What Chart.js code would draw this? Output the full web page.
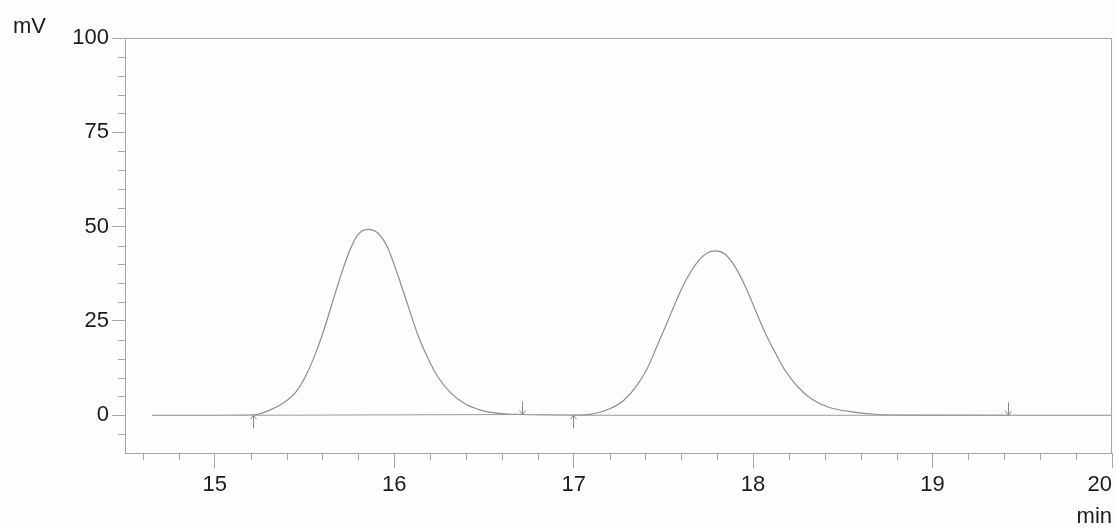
<!DOCTYPE html>
<html>
<head>
<meta charset="utf-8">
<script src="https://cdn.jsdelivr.net/npm/chart.js@4/dist/chart.umd.min.js"></script>
<style>
  html, body { margin: 0; padding: 0; background: #fdfdfd; }
  #wrap { width: 1116px; height: 528px; position: relative; }
</style>
</head>
<body>
<div id="wrap"><canvas id="chrom"></canvas></div>
<script>
// ── Data ─────────────────────────────────────────────────────────────────────
const times = [
  14.65, 15.0, 15.22, 15.304, 15.378, 15.453, 15.509, 15.565, 15.611, 15.657,
  15.704, 15.75, 15.797, 15.855, 15.909, 15.965, 16.02, 16.076, 16.132, 16.188,
  16.243, 16.318, 16.392, 16.486, 16.597, 16.71, 16.85, 17.0, 17.112, 17.205,
  17.28, 17.354, 17.41, 17.467, 17.523, 17.578, 17.634, 17.69, 17.746, 17.79,
  17.841, 17.897, 17.953, 18.009, 18.065, 18.121, 18.177, 18.25, 18.324, 18.418,
  18.548, 18.697, 18.9, 19.418, 20.0,
];
const signal = [
  0, 0, 0.1, 1.3, 3.1, 6.2, 10.6, 16.8, 23.0, 30.1,
  37.2, 43.4, 47.8, 49.3, 48.3, 44.3, 37.2, 29.2, 21.3, 15.1,
  10.2, 5.8, 3.1, 1.3, 0.44, 0.2, 0.08, 0.02, 0.4, 1.8,
  4.0, 8.0, 12.4, 18.6, 24.8, 31.0, 36.5, 40.6, 43.1, 43.6,
  42.8, 39.6, 34.5, 28.3, 22.1, 16.8, 12.0, 7.5, 4.4, 2.2,
  0.9, 0.2, 0.03, 0, 0,
];

// peak start / end markers (min) and integration baselines
const peakStarts = [15.215, 16.997];
const peakEnds   = [16.714, 19.418];
const baseStartY = [0, 0];
const baseEndY   = [0.2, 0];

const xMin = 14.5, xMax = 20;
const xTicks = [15, 16, 17, 18, 19, 20];
const yTicks = [0, 25, 50, 75, 100];

// ── Colours ──────────────────────────────────────────────────────────────────
const AXIS  = '#a6a6a6';
const TRACE = '#8e8e8e';
const TEXT  = '#1c1c1c';
const FONT  = '"Liberation Sans", Arial, sans-serif';

// ── Frame, minor ticks, arrows, units ───────────────────────────────────────
const extras = {
  id: 'extras',
  afterDraw(chart) {
    const { ctx, chartArea: a, scales: { x, y } } = chart;
    ctx.save();
    ctx.strokeStyle = AXIS;
    ctx.lineWidth = 1;
    ctx.strokeRect(Math.round(a.left) + 0.5, Math.round(a.top) + 0.5,
                   Math.round(a.right - a.left) - 1, Math.round(a.bottom - a.top));

    ctx.beginPath();
    for (let i = 73; i < 100; i++) {
      if (i % 5 === 0) continue;
      const px = Math.round(x.getPixelForValue(i / 5)) + 0.5;
      ctx.moveTo(px, a.bottom);
      ctx.lineTo(px, a.bottom + 7);
    }
    for (let v = -5; v < 100; v += 5) {
      if (v % 25 === 0) continue;
      const py = Math.round(y.getPixelForValue(v)) + 0.5;
      ctx.moveTo(a.left, py);
      ctx.lineTo(a.left - 7, py);
    }
    ctx.stroke();

    // arrows: up below baseline at starts, down above baseline at ends
    ctx.strokeStyle = '#8a8a8a';
    ctx.beginPath();
    peakStarts.forEach((t, i) => {
      const px = Math.round(x.getPixelForValue(t)) + 0.5;
      const py = y.getPixelForValue(baseStartY[i]);
      ctx.moveTo(px, py + 13); ctx.lineTo(px, py);
      ctx.moveTo(px - 3, py + 4); ctx.lineTo(px, py); ctx.lineTo(px + 3, py + 4);
    });
    peakEnds.forEach((t, i) => {
      const px = Math.round(x.getPixelForValue(t)) + 0.5;
      const py = y.getPixelForValue(baseEndY[i]);
      ctx.moveTo(px, py - 13); ctx.lineTo(px, py);
      ctx.moveTo(px - 3, py - 4); ctx.lineTo(px, py); ctx.lineTo(px + 3, py - 4);
    });
    ctx.stroke();

    ctx.fillStyle = TEXT;
    ctx.font = '22px ' + FONT;
    ctx.textBaseline = 'alphabetic';
    ctx.textAlign = 'left';
    ctx.fillText('mV', 13, 33);
    ctx.textAlign = 'right';
    ctx.fillText('min', 1112, 523);
    ctx.restore();
  },
};

// ── Chart ────────────────────────────────────────────────────────────────────
const trace = times.map((t, i) => ({ x: t, y: signal[i] }));
const baselines = [];
peakStarts.forEach((t, i) => {
  baselines.push({ x: t, y: baseStartY[i] }, { x: peakEnds[i], y: baseEndY[i] }, { x: peakEnds[i], y: null });
});

new Chart(document.getElementById('chrom'), {
  type: 'line',
  data: {
    datasets: [
      {
        data: baselines,
        borderColor: '#9a9a9a',
        borderWidth: 1,
        pointRadius: 0,
        spanGaps: false,
      },
      {
        data: trace,
        borderColor: TRACE,
        borderWidth: 1.2,
        pointRadius: 0,
        cubicInterpolationMode: 'monotone',
      },
    ],
  },
  options: {
    responsive: true,
    maintainAspectRatio: false,
    animation: false,
    layout: { autoPadding: false, padding: { top: 38, right: 4, left: 0, bottom: 0 } },
    plugins: { legend: { display: false }, tooltip: { enabled: false } },
    scales: {
      x: {
        type: 'linear',
        min: xMin,
        max: xMax,
        // blank tick at the left corner so 'inner' alignment only affects the last label
        afterBuildTicks: s => { s.ticks = [xMin, ...xTicks].map(v => ({ value: v })); },
        afterFit: s => { s.height = 75; s.paddingLeft = 0; s.paddingRight = 0; },
        border: { color: AXIS },
        grid: {
          drawOnChartArea: false,
          tickLength: 15,
          tickColor: c => (c.tick && c.tick.value === xMin ? 'rgba(0,0,0,0)' : AXIS),
        },
        ticks: {
          color: TEXT,
          font: { family: FONT, size: 22 },
          padding: 4,
          maxRotation: 0,
          autoSkip: false,
          align: 'inner',
          callback: v => (v === xMin ? '' : String(v)),
        },
      },
      y: {
        min: -10,
        max: 100,
        afterBuildTicks: s => { s.ticks = yTicks.map(v => ({ value: v })); },
        afterFit: s => { s.width = 125; s.paddingTop = 0; s.paddingBottom = 0; },
        border: { color: AXIS },
        grid: { drawOnChartArea: false, tickLength: 13, tickColor: AXIS },
        ticks: { color: TEXT, font: { family: FONT, size: 22 }, padding: 3 },
      },
    },
  },
  plugins: [extras],
});
</script>
</body>
</html>
